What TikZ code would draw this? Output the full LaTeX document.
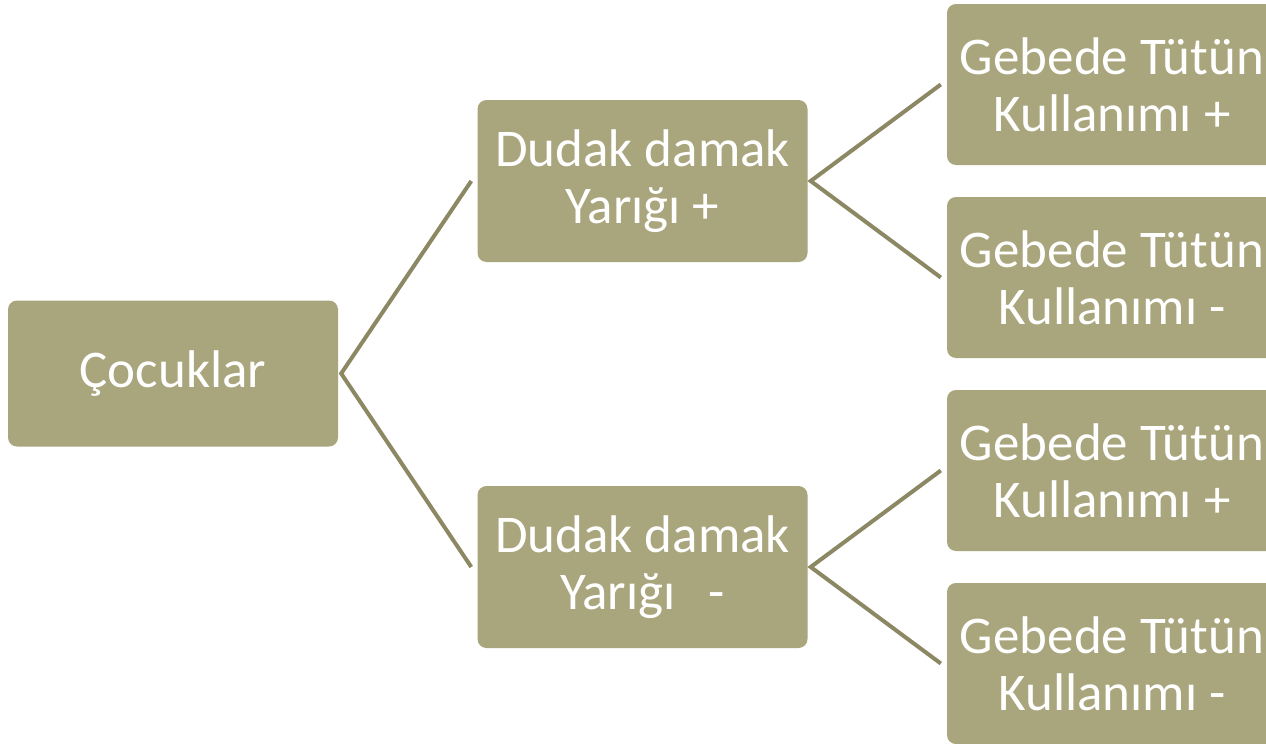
\documentclass[tikz,border=0pt]{standalone}
\usepackage{fontspec}
\setmainfont{Carlito}
\definecolor{boxfill}{HTML}{A9A57C}
\definecolor{linkcol}{HTML}{8C8864}
\begin{document}
\begin{tikzpicture}[x=1pt,y=-1pt,
  box/.style={fill=boxfill, rounded corners=9pt, text=white, align=center,
    minimum width=330pt, inner sep=0pt,
    font=\fontsize{53}{57}\selectfont},
  link/.style={draw=linkcol, line width=4pt}]
\useasboundingbox (0,0) rectangle (1266,744);
\clip (0,0) rectangle (1266,744);
% root
\node[box, minimum height=146pt] (root) at (173,373.5) {Çocuklar};
% second level
\node[box, minimum height=162pt] (dp) at (642.5,181) {Dudak damak\\Yarığı +};
\node[box, minimum height=162pt] (dm) at (642.5,567) {Dudak damak\\Yarığı \ \,-};
% third level
\node[box, minimum height=161pt] (g1) at (1112,84.5) {Gebede Tütün\\Kullanımı +};
\node[box, minimum height=161pt] (g2) at (1112,277.5) {Gebede Tütün\\Kullanımı -};
\node[box, minimum height=161pt] (g3) at (1112,470.5) {Gebede Tütün\\Kullanımı +};
\node[box, minimum height=161pt] (g4) at (1112,663.5) {Gebede Tütün\\Kullanımı -};
% connectors
\coordinate (r0) at ([xshift=3pt]root.east);
\coordinate (p0) at ([xshift=3pt]dp.east);
\coordinate (m0) at ([xshift=3pt]dm.east);
\draw[link] ([xshift=-6pt]dp.west) -- (r0) -- ([xshift=-6pt]dm.west);
\draw[link] ([xshift=-6pt]g1.west) -- (p0) -- ([xshift=-6pt]g2.west);
\draw[link] ([xshift=-6pt]g3.west) -- (m0) -- ([xshift=-6pt]g4.west);
\end{tikzpicture}
\end{document}
